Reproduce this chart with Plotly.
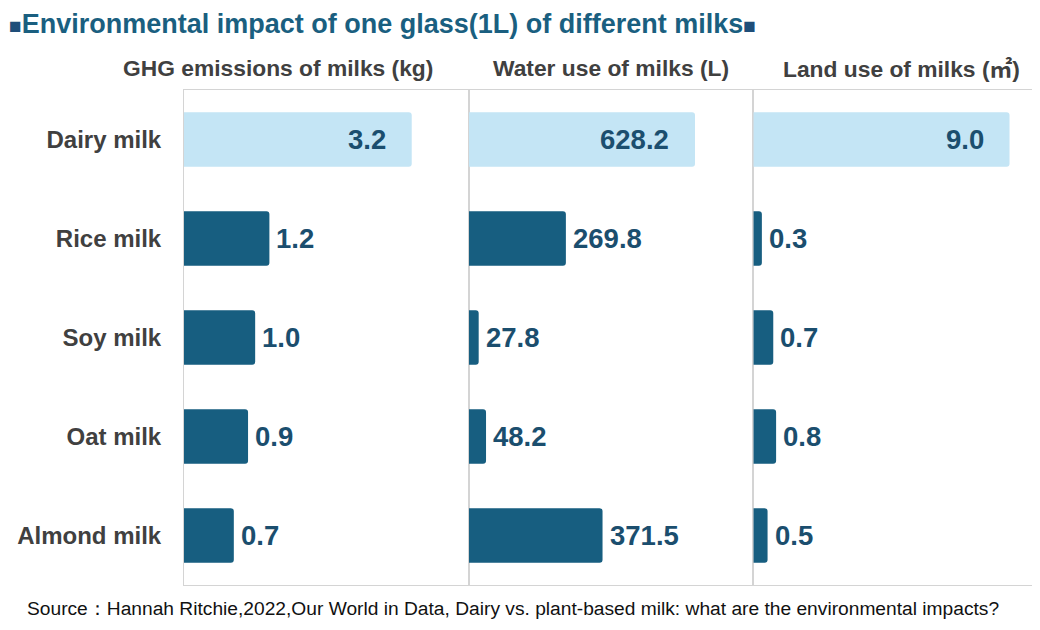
import plotly.graph_objects as go
from plotly.subplots import make_subplots

milks = ["Dairy milk", "Rice milk", "Soy milk", "Oat milk", "Almond milk"]
ghg_kg = [3.2, 1.2, 1.0, 0.9, 0.7]
water_l = [628.2, 269.8, 27.8, 48.2, 371.5]
land_m2 = [9.0, 0.3, 0.7, 0.8, 0.5]

panel_titles = ["GHG emissions of milks (kg)", "Water use of milks (L)",
                "Land use of milks (<span style='font-family:Noto Sans CJK SC'>㎡</span>)"]
panel_ranges = [[0, 4], [0, 790], [0, 10]]

DARK = "#175e80"
LIGHT = "#c4e5f5"
VALUE_COL = "#1b4e6e"
GRAY = "#404040"
FONT = "Liberation Sans, Arial, sans-serif"

# the page body adds an 8px margin, so the figure is drawn 8px smaller
OFF = 8
W, H = 1040 - OFF, 630 - OFF
L, R, T, B = 184 - OFF, 2, 90 - OFF, 45


def px_x(px):
    # reference pixel -> paper fraction (paper = plot area)
    return (px - OFF - L) / (W - L - R)


def px_y(py):
    return (H - B - (py - OFF)) / (H - T - B)


fig = make_subplots(rows=1, cols=3, shared_yaxes=True, horizontal_spacing=0)

for i, vals in enumerate([ghg_kg, water_l, land_m2]):
    col = i + 1
    colors = [LIGHT if m == "Dairy milk" else DARK for m in milks]
    fig.add_trace(go.Bar(
        x=vals, y=milks, orientation="h", width=0.55,
        marker=dict(color=colors, cornerradius=3, line=dict(width=0)),
        showlegend=False, hoverinfo="x+y",
    ), row=1, col=col)
    xref = "x" if col == 1 else f"x{col}"
    yref = "y" if col == 1 else f"y{col}"
    # value labels: inside the dairy bar, outside the others
    for m, v in zip(milks, vals):
        inside = m == "Dairy milk"
        fig.add_annotation(
            x=v, y=m, xref=xref, yref=yref, text=f"{v:.1f}", showarrow=False,
            xanchor="right" if inside else "left", xshift=-24 if inside else 5,
            font=dict(family=FONT, size=27.5, color=VALUE_COL, weight="bold"),
        )
    fig.update_xaxes(range=panel_ranges[i], showticklabels=False, showgrid=False,
                     zeroline=False, showline=True, mirror=True, linecolor="#d4d4d4",
                     linewidth=1, fixedrange=True, automargin=False, row=1, col=col)

fig.update_yaxes(autorange="reversed", showgrid=False, showline=True, mirror=True,
                 linecolor="#d4d4d4", linewidth=1, ticks="", ticklabelstandoff=17,
                 automargin=False,
                 tickfont=dict(family=FONT, size=24, color=GRAY, weight="bold"))
fig.update_yaxes(showticklabels=False, row=1, col=2)
fig.update_yaxes(showticklabels=False, row=1, col=3)

# panel titles
title_x = [278, 611, 901]
for t, cx in zip(panel_titles, title_x):
    fig.add_annotation(x=px_x(cx), y=px_y(68), xref="paper", yref="paper",
                       text=t, showarrow=False, xanchor="center", yanchor="middle",
                       font=dict(family=FONT, size=22.8, color=GRAY, weight="bold"))

sq = "<span style='font-size:21px;color:#1f4e79'>■</span>"
fig.add_annotation(
    x=px_x(OFF), y=px_y(OFF), xref="paper", yref="paper", xanchor="left", yanchor="top",
    showarrow=False, borderpad=0,
    text=sq + "Environmental impact of one glass(1L) of different milks" + sq,
    font=dict(family=FONT, size=27, color="#1a5f80", weight="bold"),
)

fig.add_annotation(
    x=px_x(25), y=px_y(608), xref="paper", yref="paper", xanchor="left", yanchor="middle",
    showarrow=False,
    text="Source：Hannah Ritchie,2022,Our World in Data, Dairy vs. plant-based milk: what are the environmental impacts?",
    font=dict(family=FONT, size=19.2, color="#111111"),
)

fig.update_layout(
    width=W, height=H,
    margin=dict(l=L, r=R, t=T, b=B),
    plot_bgcolor="white", paper_bgcolor="white",
)

fig.write_html("out.html")
